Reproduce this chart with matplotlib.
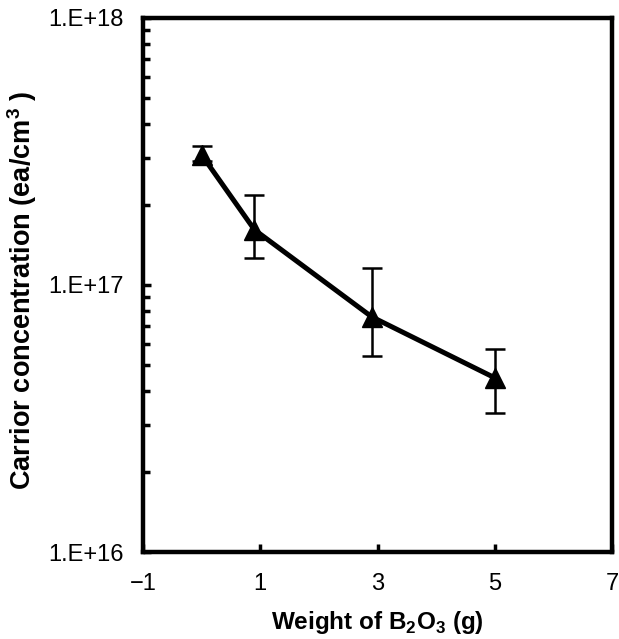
import matplotlib
matplotlib.use('Agg')
import matplotlib.pyplot as plt
from matplotlib.ticker import LogLocator, FixedLocator, NullFormatter

plt.rcParams['font.family'] = ['Liberation Sans', 'DejaVu Sans']

weight = [0.0, 0.9, 2.9, 5.0]
carrier = [3.07e17, 1.61e17, 7.6e16, 4.49e16]
err_low = [0.17e17, 0.35e17, 2.18e16, 1.17e16]
err_high = [0.23e17, 0.56e17, 4.0e16, 1.26e16]

x_ticks = [-1, 1, 3, 5, 7]
y_ticks = [1e16, 1e17, 1e18]
y_tick_labels = ['1.E+16', '1.E+17', '1.E+18']

fig = plt.figure(figsize=(6.19, 6.39), dpi=100)
ax = fig.add_axes([0.231, 0.136, 0.758, 0.836])

ax.errorbar(weight, carrier, yerr=[err_low, err_high], color='black',
            linewidth=3.6, marker='^', markersize=14, ecolor='black',
            elinewidth=1.8, capsize=7, capthick=1.8)

ax.set_yscale('log')
ax.set_xlim(-1, 7)
ax.set_ylim(1e16, 1e18)

ax.xaxis.set_major_locator(FixedLocator(x_ticks))
ax.set_xticklabels(['\u22121', '1', '3', '5', '7'])
ax.yaxis.set_major_locator(FixedLocator(y_ticks))
ax.set_yticklabels(y_tick_labels)
ax.yaxis.set_minor_locator(LogLocator(base=10, subs=range(2, 10)))
ax.yaxis.set_minor_formatter(NullFormatter())

ax.tick_params(axis='both', which='major', direction='in', length=6, width=2.5,
               labelsize=17, pad=14)
ax.tick_params(axis='y', which='minor', direction='in', length=5, width=2.5)
ax.tick_params(axis='x', pad=15)

for s in ax.spines.values():
    s.set_linewidth(3.2)

ax.set_xlabel('Weight of B$_\\mathregular{2}$O$_\\mathregular{3}$ (g)',
              fontsize=17.5, fontweight='bold')
ax.xaxis.set_label_coords(0.5, -0.131)
ax.xaxis.label.set_va('center')
ax.set_ylabel('Carrior concentration (ea/cm$^\\mathregular{3}$ )',
              fontsize=19.5, fontweight='bold')
ax.yaxis.set_label_coords(-0.257, 0.49)
ax.yaxis.label.set_va('center')

plt.savefig('out.png', dpi=100)
